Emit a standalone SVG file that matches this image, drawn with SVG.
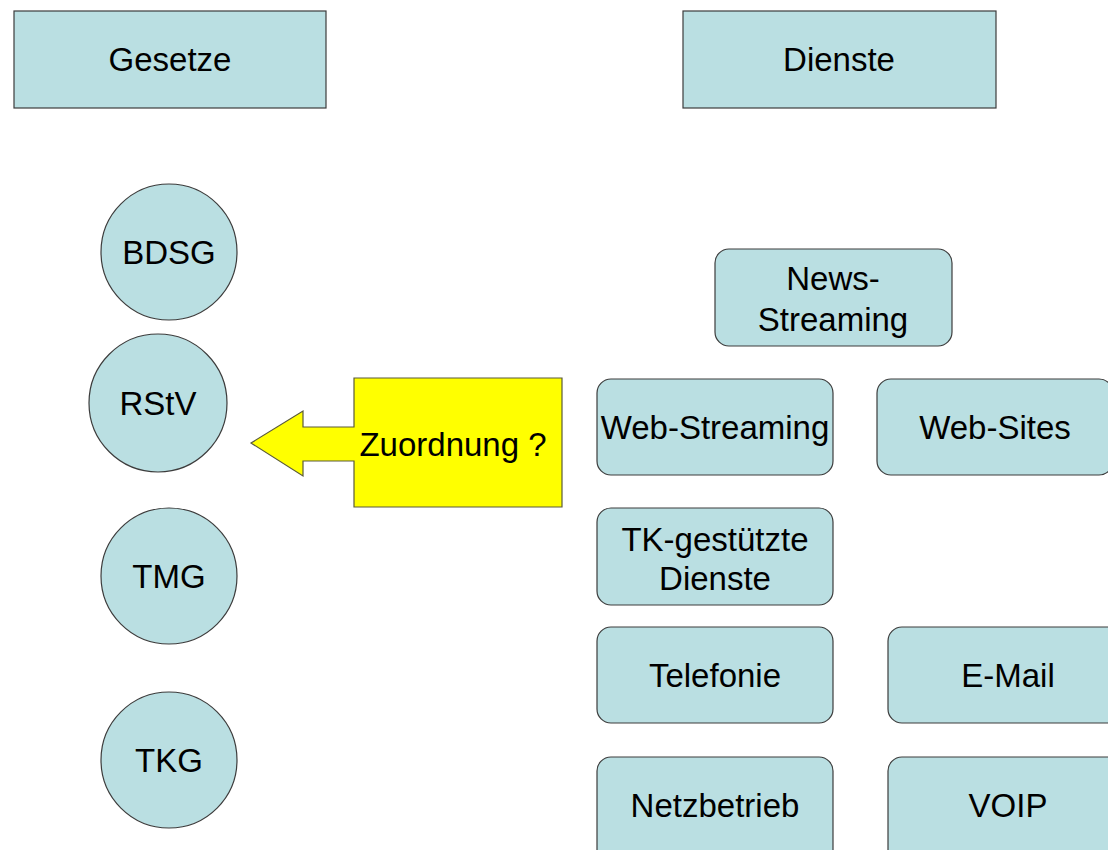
<svg xmlns="http://www.w3.org/2000/svg" width="1108" height="850" viewBox="0 0 1108 850">
<style>
.box{fill:#badfe2;stroke:#3c3c3c;stroke-width:1.2}
.t{font-family:"Liberation Sans",Arial,sans-serif;font-size:33px;fill:#000;text-anchor:middle}
</style>
<rect width="1108" height="850" fill="#fff"/>
<g id="connectors"></g>
<g id="gesetze"><rect class="box" x="14" y="11" width="312" height="97"/><text class="t" x="170" y="71">Gesetze</text></g>
<g id="dienste"><rect class="box" x="683" y="11" width="313" height="97"/><text class="t" x="839" y="71">Dienste</text></g>
<g id="bdsg"><circle class="box" cx="169" cy="252" r="68"/><text class="t" x="169" y="264">BDSG</text></g>
<g id="rstv"><circle class="box" cx="158" cy="403" r="69"/><text class="t" x="158" y="415">RStV</text></g>
<g id="tmg"><circle class="box" cx="169" cy="576" r="68"/><text class="t" x="169" y="588">TMG</text></g>
<g id="tkg"><circle class="box" cx="169" cy="760" r="68"/><text class="t" x="169" y="772">TKG</text></g>
<g id="zuordnung"><polygon points="354,378 562,378 562,507 354,507 354,461 303,461 303,476 251,443 303,411 303,427 354,427" fill="#ffff00" stroke="#5a5a3a" stroke-width="1.2"/><text class="t" x="453" y="456">Zuordnung ?</text></g>
<g id="news"><rect class="box" x="715" y="249" width="237" height="97" rx="14"/><text class="t" x="833" y="290">News-</text><text class="t" x="833" y="331">Streaming</text></g>
<g id="webstreaming"><rect class="box" x="597" y="379" width="236" height="96" rx="14"/><text class="t" x="715" y="439">Web-Streaming</text></g>
<g id="websites"><rect class="box" x="877" y="379" width="236" height="96" rx="14"/><text class="t" x="995" y="439">Web-Sites</text></g>
<g id="tk"><rect class="box" x="597" y="508" width="236" height="97" rx="14"/><text class="t" x="715" y="551">TK-gestützte</text><text class="t" x="715" y="590">Dienste</text></g>
<g id="telefonie"><rect class="box" x="597" y="627" width="236" height="96" rx="14"/><text class="t" x="715" y="687">Telefonie</text></g>
<g id="email"><rect class="box" x="888" y="627" width="237" height="96" rx="14"/><text class="t" x="1008" y="687">E-Mail</text></g>
<g id="netzbetrieb"><rect class="box" x="597" y="757" width="236" height="110" rx="14"/><text class="t" x="715" y="817">Netzbetrieb</text></g>
<g id="voip"><rect class="box" x="888" y="757" width="237" height="110" rx="14"/><text class="t" x="1008" y="817">VOIP</text></g>
</svg>
